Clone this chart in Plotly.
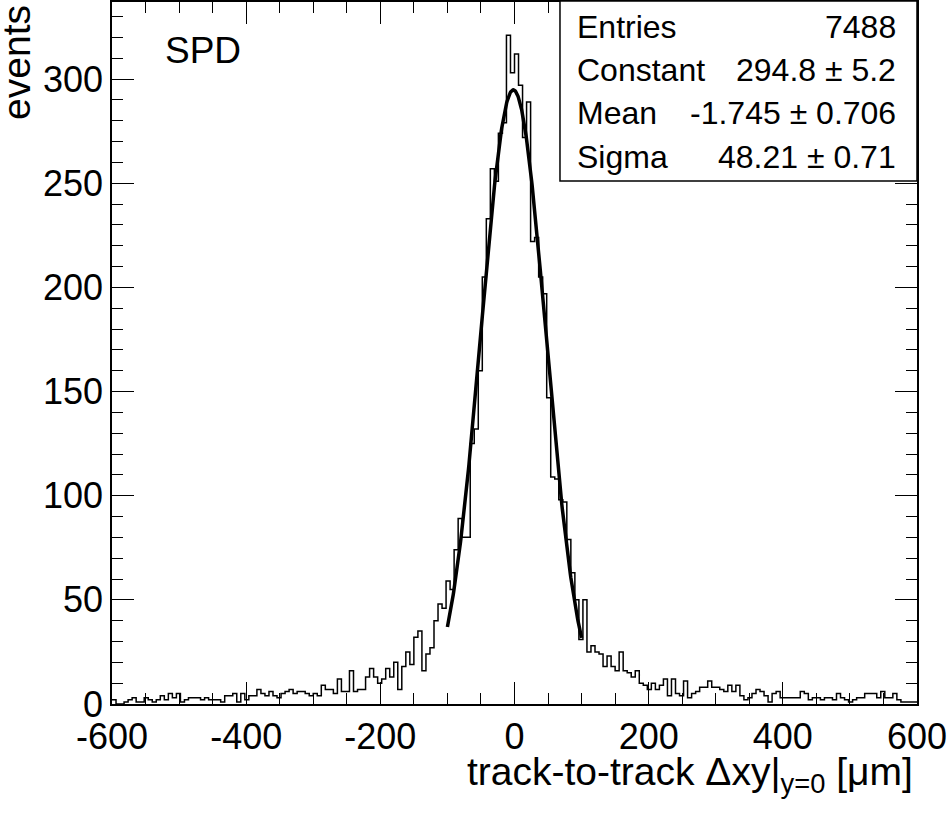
import numpy as np
import plotly.graph_objects as go

# histogram: 200 bins of 6 um from -600 to 600
x_min = -600
x_max = 600
n_bins = 200

counts = [
    # -600 .. -318
    2, 0, 0, 1, 2, 3, 1, 1, 3, 2, 1, 2, 4, 2, 5, 3, 5, 1, 2, 3,
    3, 3, 2, 3, 2, 2, 2, 1, 4, 4, 5, 1, 5, 2, 4, 4, 7, 5, 4, 6,
    4, 3, 5, 6, 7, 5, 6,
    # -318 .. -72
    6, 5, 4, 5, 4, 9, 7, 7, 5, 12, 6, 6, 16, 6, 7, 7, 13, 17, 13, 10,
    12, 17, 13, 20, 7, 18, 25, 19, 32, 35, 16, 24, 27, 40, 48, 46, 59, 55, 74, 89,
    80,
    # -72 .. 0
    80, 125, 132, 160, 205, 233, 257, 251, 274, 279, 321, 303,
    # 0 .. 102
    312, 297, 272, 289, 222, 224, 205, 197, 147, 109, 108, 98, 97, 79, 63, 50,
    31,
    # 102 .. 600
    50, 25, 28, 25, 24, 18, 23, 18, 16, 25, 16, 15, 13, 16, 10, 9, 7, 10, 7, 9,
    12, 4, 12, 5, 4, 11, 3, 5, 6, 8, 8, 11, 8, 8, 7, 6, 9, 6, 9, 4,
    2, 3, 5, 7, 6, 4, 1, 5, 6, 3, 3, 3, 3, 3, 6, 5, 2, 3, 3, 2,
    3, 3, 2, 5, 3, 2, 1, 2, 3, 3, 5, 5, 5, 3, 6, 3, 3, 5, 2, 1,
    1, 1, 1,
]
assert len(counts) == n_bins

x_tickvals = [-600, -400, -200, 0, 200, 400, 600]
x_ticktext = ["-600", "-400", "-200", "0", "200", "400", "600"]
y_tickvals = [0, 50, 100, 150, 200, 250, 300]
y_ticktext = ["0", "50", "100", "150", "200", "250", "300"]

# gaus fit result (from the stats box)
entries = 7488
fit_constant = 294.8
fit_constant_err = 5.2
fit_mean = -1.745
fit_mean_err = 0.706
fit_sigma = 48.21
fit_sigma_err = 0.71
fit_range = (-100, 100)

stat_labels = ["Entries", "Constant", "Mean", "Sigma"]
stat_values = [
    f"{entries}",
    f"{fit_constant}\u00a0\u00b1\u00a0{fit_constant_err}",
    f"{fit_mean}\u00a0\u00b1\u00a0{fit_mean_err}",
    f"{fit_sigma}\u00a0\u00b1\u00a0{fit_sigma_err}",
]

FONT = "Liberation Sans, Arial, Helvetica, sans-serif"

edges = np.linspace(x_min, x_max, n_bins + 1)
step_y = counts + [counts[-1]]

fx = np.linspace(fit_range[0], fit_range[1], 300)
fy = fit_constant * np.exp(-0.5 * ((fx - fit_mean) / fit_sigma) ** 2)

fig = go.Figure()
fig.add_trace(go.Scatter(
    x=edges, y=step_y, mode="lines", line_shape="hv",
    line=dict(color="black", width=1.5), hoverinfo="skip",
))
fig.add_trace(go.Scatter(
    x=fx, y=fy, mode="lines", line=dict(color="black", width=3.5),
))

axis_common = dict(
    showline=True, linecolor="black", linewidth=1.5, mirror="allticks",
    ticks="inside", ticklen=22, tickwidth=1.3, tickcolor="black",
    showgrid=False, zeroline=False, automargin=False,
    tickfont=dict(family=FONT, size=36, color="black"),
)

fig.update_xaxes(
    range=[x_min, x_max], tickvals=x_tickvals, ticktext=x_ticktext,
    minor=dict(ticks="inside", ticklen=11, dtick=50, tick0=0,
               tickcolor="black", tickwidth=1.3),
    **axis_common,
)
fig.update_yaxes(
    range=[0, 337], tickvals=y_tickvals, ticktext=y_ticktext,
    minor=dict(ticks="inside", ticklen=11, dtick=10, tick0=0,
               tickcolor="black", tickwidth=1.3),
    **axis_common,
)

# stats box
fig.add_shape(type="rect", xref="paper", yref="paper",
              x0=0.5565, x1=1.0, y0=0.745, y1=1.0015,
              line=dict(color="black", width=1.5), fillcolor="white", layer="above")
row_y = [0.9644, 0.9031, 0.8419, 0.7792]
for lab, val, yy in zip(stat_labels, stat_values, row_y):
    fig.add_annotation(text=lab, x=0.575, y=yy, xref="paper", yref="paper",
                       xanchor="left", yanchor="middle", showarrow=False,
                       font=dict(family=FONT, size=32, color="black"))
    fig.add_annotation(text=val, x=0.977, y=yy, xref="paper", yref="paper",
                       xanchor="right", yanchor="middle", showarrow=False,
                       font=dict(family=FONT, size=32, color="black"))

fig.add_annotation(text="SPD", x=0.0634, y=0.9316, xref="paper", yref="paper",
                   xanchor="left", yanchor="middle", showarrow=False,
                   font=dict(family=FONT, size=37, color="black"))

# axis titles (right aligned at axis end, ROOT style)
fig.add_annotation(text="events", x=-0.118, y=0.998, xref="paper", yref="paper",
                   textangle=-90, xanchor="center", yanchor="top", showarrow=False,
                   font=dict(family=FONT, size=39, color="black"))
fig.add_annotation(text="track-to-track \u0394xy|<sub>y=0</sub> [\u03bcm]",
                   x=0.997, y=-0.062, xref="paper", yref="paper",
                   xanchor="right", yanchor="top", showarrow=False,
                   font=dict(family=FONT, size=39, color="black"))

fig.update_layout(
    width=950, height=819,
    margin=dict(l=112, r=33, t=2, b=115),
    plot_bgcolor="white", paper_bgcolor="white",
    showlegend=False,
    font=dict(family=FONT, color="black"),
)

# drop the default body margin so the figure sits at the page corner
fig.write_html("out.html", config={"displayModeBar": False},
               post_script="document.body.style.margin = '0';")
